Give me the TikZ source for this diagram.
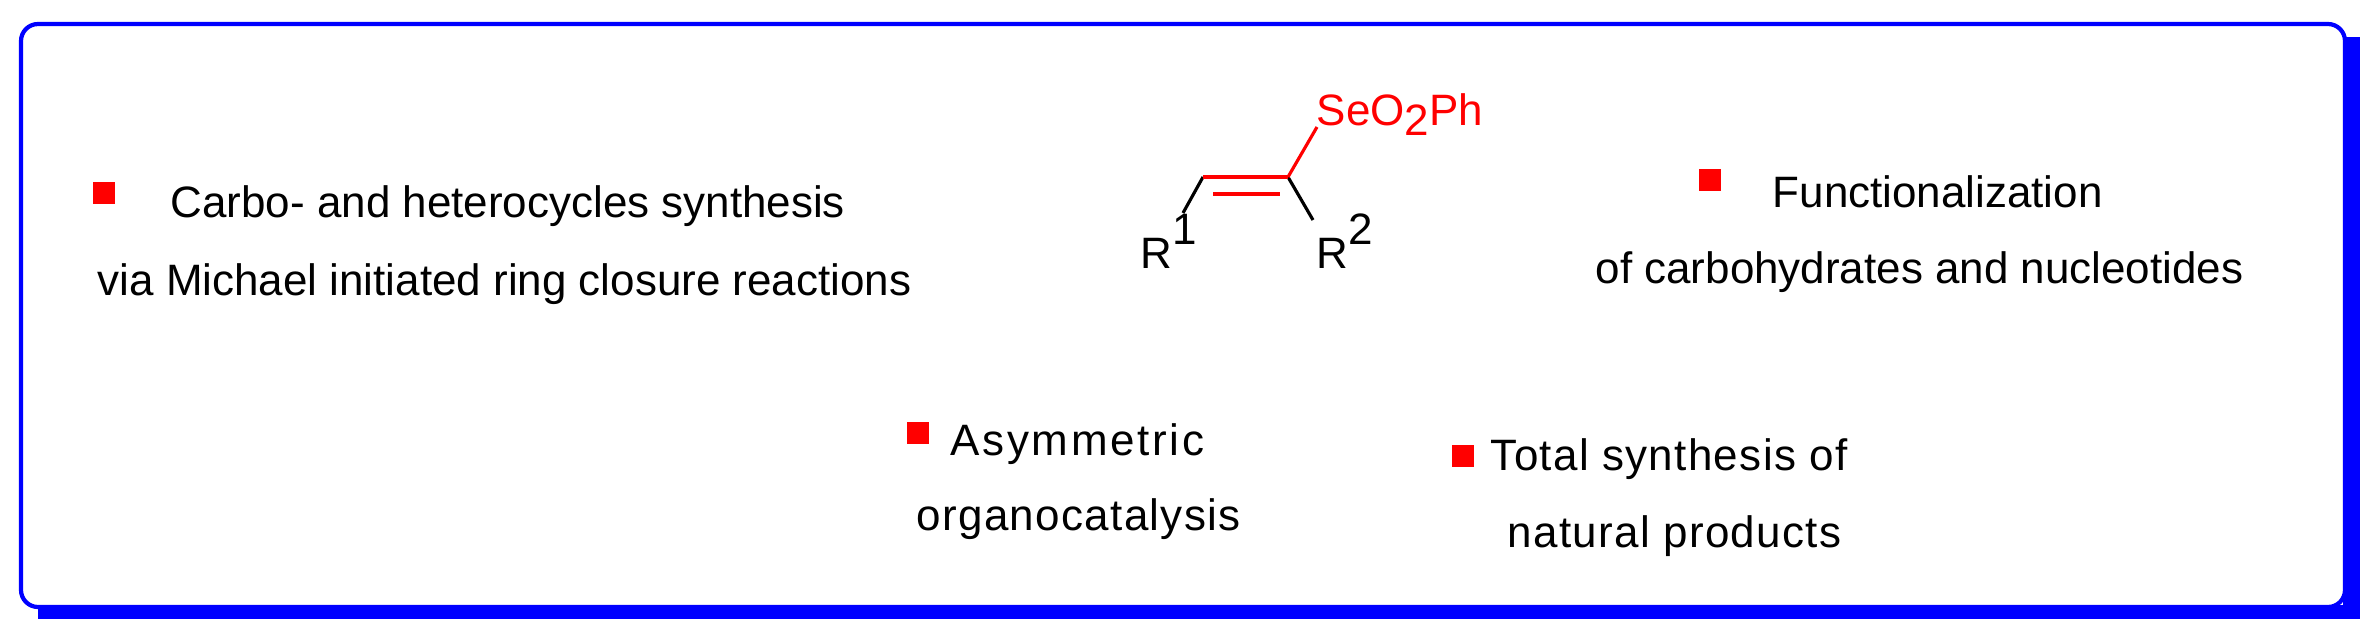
\documentclass[tikz,border=0pt]{standalone}
\usepackage{fontspec}
\setmainfont{Liberation Sans}
\begin{document}
\begin{tikzpicture}[x=0.01cm,y=-0.01cm,
  txt/.style={font=\fontsize{12.5}{14}\selectfont, inner sep=0pt, anchor=base west},
  bul/.style={fill=red, minimum size=0.22cm, inner sep=0pt},
  bond/.style={line width=0.9pt}]
\useasboundingbox (0,0) rectangle (2374,636);
% shadow
\fill[blue] (2343,37) rectangle (2360,619);
\fill[blue] (38,605) rectangle (2360,619);
\draw[blue, line width=1.2pt, fill=white, rounded corners=0.17cm] (21,24) rectangle (2345,607);
% left
\node[bul] (b1) at (104,193) {};
\node[txt] (t1) at (170,217) {Carbo- and heterocycles synthesis};
\node[txt] (t2) at (97,295) {via Michael initiated ring closure reactions};
% molecule
\coordinate (c1) at (1203,177);
\coordinate (c2) at (1288,177);
\coordinate (r1e) at (1183,213);
\coordinate (r2e) at (1313,220);
\coordinate (se) at (1317,127);
\draw[bond] (c1) -- (r1e);
\draw[bond] (c2) -- (r2e);
\draw[bond, red] (c1) -- (c2);
\draw[bond, red] (1213,194) -- (1280,194);
\draw[bond, red] (c2) -- (se);
\node[txt, red] (sep) at (1316,125) {SeO\raisebox{-0.45ex}{2}Ph};
\node[txt] (R1) at (1140,268) {R\raisebox{1.0ex}{1}};
\node[txt] (R2) at (1316,268) {R\raisebox{1.0ex}{2}};
% right
\node[bul] (b2) at (1710,180) {};
\node[txt] (t3) at (1772,207) {Functionalization};
\node[txt] (t4) at (1595,283) {of carbohydrates and nucleotides};
% bottom
\node[bul] (b3) at (918,433) {};
\node[txt] (t5) at (950,455) {\addfontfeature{LetterSpace=6}Asymmetric};
\node[txt] (t6) at (916,530) {\addfontfeature{LetterSpace=3}organocatalysis};
\node[bul] (b4) at (1463,456) {};
\node[txt] (t7) at (1490,470) {\addfontfeature{LetterSpace=3}Total synthesis of};
\node[txt] (t8) at (1507,547) {\addfontfeature{LetterSpace=3}natural products};
\end{tikzpicture}
\end{document}
